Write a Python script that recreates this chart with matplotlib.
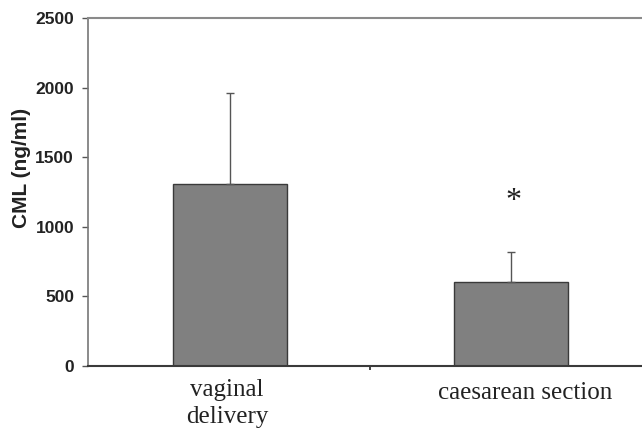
import matplotlib.pyplot as plt
from matplotlib.ticker import FixedLocator
from matplotlib.transforms import ScaledTranslation

categories = ['vaginal\ndelivery', 'caesarean section']
means = [1310, 600]
upper_err = [650, 220]
yticks = [0, 500, 1000, 1500, 2000, 2500]

fig = plt.figure(figsize=(6.42, 4.29), dpi=100)
ax = fig.add_axes([0.137, 0.147, 0.863, 0.811])

x = list(range(len(categories)))
ax.bar(x, means, width=0.405, color='#808080', edgecolor='#3a3a3a', linewidth=1.0, zorder=2)
ax.errorbar(x, means, yerr=[[0] * len(means), upper_err], fmt='none',
            ecolor='#555555', elinewidth=1.0, capsize=3, capthick=1.0, zorder=3)

# significance marker
ax.text(1.01, 1182, '*', ha='center', va='center', fontsize=23,
        family='Liberation Serif', color='#222222')

ax.set_xlim(-0.505, 1.466)
ax.set_ylim(0, 2500)
ax.set_yticks(yticks)
ax.set_yticklabels([str(v) for v in yticks], fontsize=12.5, fontweight='bold',
                   family='Liberation Sans', color='#222222')
ax.tick_params(axis='y', direction='out', length=4, width=1, color='#555555', pad=6)

ax.set_xticks(x)
ax.set_xticklabels(categories, fontsize=18, family='Liberation Serif',
                   color='#222222', linespacing=1.3)
ax.tick_params(axis='x', which='major', length=0, pad=7)
ax.xaxis.set_minor_locator(FixedLocator([0.5]))
ax.tick_params(axis='x', which='minor', direction='out', length=3, width=1.2, color='#222222')

# small per-label nudges (label placement in the original is not exactly centred)
offsets = [(-3, -3), (14, -6)]
for lab, (dx, dy) in zip(ax.get_xticklabels(), offsets):
    lab.set_transform(lab.get_transform() + ScaledTranslation(dx / 100, dy / 100, fig.dpi_scale_trans))

ax.set_ylabel('CML (ng/ml)', fontsize=15, fontweight='bold', family='Liberation Sans',
              color='#222222')
ax.yaxis.set_label_coords(-0.102, 0.569)

ax.spines['right'].set_visible(False)
ax.spines['top'].set_color('#8a8a8a')
ax.spines['top'].set_linewidth(1.5)
ax.spines['left'].set_color('#777777')
ax.spines['left'].set_linewidth(1.2)
ax.spines['bottom'].set_color('#3a3a3a')
ax.spines['bottom'].set_linewidth(1.5)

fig.savefig('out.png', dpi=100)
